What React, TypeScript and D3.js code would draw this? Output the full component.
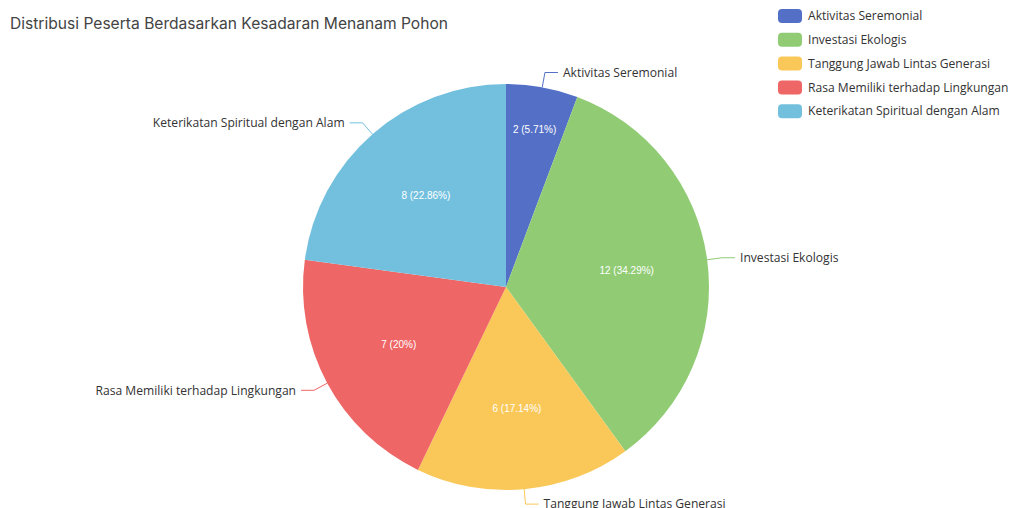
import { useEffect, useRef } from "react";
import * as d3 from "d3";

const CATEGORIES = [
  "Aktivitas Seremonial",
  "Investasi Ekologis",
  "Tanggung Jawab Lintas Generasi",
  "Rasa Memiliki terhadap Lingkungan",
  "Keterikatan Spiritual dengan Alam",
];
const VALUES = [2, 12, 6, 7, 8];
const COLORS = ["#5470c6", "#91cc75", "#fac858", "#ee6666", "#73c0de"];

const W = 1011;
const H = 508;
const CX = 506;
const CY = 287;
const R = 203;
const LABEL_FONT = "'Open Sans', 'Noto Sans', sans-serif";

type Row = { name: string; value: number; color: string };

function draw(svgEl: SVGSVGElement) {
  const svg = d3.select(svgEl);
  svg.selectAll("*").remove();

  const rows: Row[] = CATEGORIES.map((name, i) => ({ name, value: VALUES[i], color: COLORS[i] }));
  const total = d3.sum(VALUES);

  // judul
  svg.append("text")
    .attr("x", 10).attr("y", 29)
    .attr("font-family", "Inter, 'Noto Sans', sans-serif")
    .attr("font-size", 15.6)
    .attr("fill", "#444444")
    .text("Distribusi Peserta Berdasarkan Kesadaran Menanam Pohon");

  const pie = d3.pie<Row>().value((d) => d.value).sort(null);
  const arcs = pie(rows);
  const arc = d3.arc<d3.PieArcDatum<Row>>().innerRadius(0).outerRadius(R);

  const g = svg.append("g").attr("transform", `translate(${CX},${CY})`);

  g.selectAll("path.slice")
    .data(arcs)
    .join("path")
    .attr("class", "slice")
    .attr("d", arc)
    .attr("fill", (d) => d.data.color);

  // label di dalam irisan
  arcs.forEach((a) => {
    const mid = (a.startAngle + a.endAngle) / 2;
    const half = (a.endAngle - a.startAngle) / 2;
    const rr = R * (half < 0.3 ? 0.79 : 0.6);
    const pct = +((a.data.value / total) * 100).toFixed(2);
    g.append("text")
      .attr("x", rr * Math.sin(mid))
      .attr("y", -rr * Math.cos(mid))
      .attr("text-anchor", "middle")
      .attr("dy", "0.35em")
      .attr("font-family", "'Liberation Sans', Arial, sans-serif")
      .attr("font-size", 10)
      .attr("fill", "#ffffff")
      .text(`${a.data.value} (${pct}%)`);
  });

  // garis label luar
  arcs.forEach((a) => {
    const mid = (a.startAngle + a.endAngle) / 2;
    const sx = Math.sin(mid);
    const cy = -Math.cos(mid);
    const p0 = [R * sx, R * cy];
    const p1 = [(R + 15) * sx, (R + 15) * cy];
    const right = sx >= 0;
    const p2 = [p1[0] + (right ? 13 : -13), p1[1]];
    g.append("polyline")
      .attr("points", [p0, p1, p2].map((p) => p.join(",")).join(" "))
      .attr("fill", "none")
      .attr("stroke", a.data.color)
      .attr("stroke-width", 1);
    g.append("text")
      .attr("x", p2[0] + (right ? 5 : -5))
      .attr("y", p2[1])
      .attr("dy", "0.35em")
      .attr("text-anchor", right ? "start" : "end")
      .attr("font-family", LABEL_FONT)
      .attr("font-size", 12.1)
      .attr("fill", "#333333")
      .text(a.data.name);
  });

  // legenda
  const legend = svg.append("g").attr("transform", "translate(778,16)");
  rows.forEach((row, i) => {
    const y = i * 23.8;
    legend.append("rect")
      .attr("x", 0).attr("y", y - 7)
      .attr("width", 24).attr("height", 14)
      .attr("rx", 4)
      .attr("fill", row.color);
    legend.append("text")
      .attr("x", 30).attr("y", y)
      .attr("dy", "0.35em")
      .attr("font-family", LABEL_FONT)
      .attr("font-size", 12.1)
      .attr("fill", "#333333")
      .text(row.name);
  });
}

export default function App() {
  const ref = useRef<SVGSVGElement>(null);
  useEffect(() => {
    document.body.style.margin = "0";
    if (ref.current) draw(ref.current);
  }, []);
  return (
    <svg ref={ref} width={W} height={H} style={{ display: "block", background: "#ffffff" }} />
  );
}
